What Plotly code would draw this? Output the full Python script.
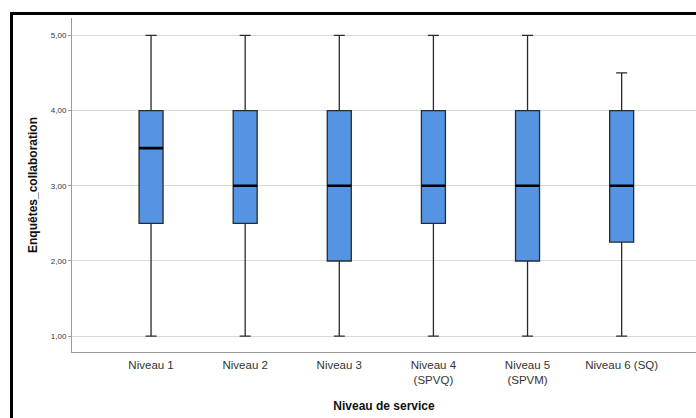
import plotly.graph_objects as go

categories = ["Niveau 1", "Niveau 2", "Niveau 3", "Niveau 4<br>(SPVQ)", "Niveau 5<br>(SPVM)", "Niveau 6 (SQ)"]
lower = [1.0, 1.0, 1.0, 1.0, 1.0, 1.0]
q1 = [2.5, 2.5, 2.0, 2.5, 2.0, 2.25]
median = [3.5, 3.0, 3.0, 3.0, 3.0, 3.0]
q3 = [4.0, 4.0, 4.0, 4.0, 4.0, 4.0]
upper = [5.0, 5.0, 5.0, 5.0, 5.0, 4.5]
ytick_vals = [1, 2, 3, 4, 5]
ytick_text = ["1,00", "2,00", "3,00", "4,00", "5,00"]

W, H = 696, 418
L, R, T, B = 72, 0, 18, 66

fig = go.Figure()
fig.add_trace(go.Box(
    x=categories, q1=q1, median=median, q3=q3,
    lowerfence=lower, upperfence=upper,
    fillcolor="#5593E3", line=dict(color="#2b2b2b", width=1.3),
    width=0.255, whiskerwidth=0.46, boxpoints=False, hoverinfo="skip",
))
# thick median line overlay
fig.add_trace(go.Box(
    x=categories, q1=median, median=median, q3=median,
    lowerfence=median, upperfence=median,
    fillcolor="rgba(0,0,0,0)", line=dict(color="#000000", width=2.6),
    width=0.255, whiskerwidth=1.0, boxpoints=False, hoverinfo="skip",
))

pw = W - L - R
ph = H - T - B
fig.add_shape(type="rect", xref="paper", yref="paper",
              x0=(11.5 - L) / pw, x1=(W + 30 - L) / pw,
              y0=-(H + 30 - T - ph) / ph, y1=1 + (T - 13.5) / ph,
              line=dict(color="black", width=3), layer="above")

fig.update_layout(
    width=W, height=H,
    margin=dict(l=L, r=R, t=T, b=B),
    paper_bgcolor="white", plot_bgcolor="white",
    showlegend=False, boxmode="overlay",
    font=dict(family="Liberation Sans, Arial, sans-serif", color="#222"),
    xaxis=dict(
        type="category", range=[-0.84, 5.79],
        showline=True, linecolor="#9a9a9a", linewidth=1,
        showgrid=False, ticks="outside", ticklen=2, tickcolor="rgba(0,0,0,0)",
        tickfont=dict(size=11.5, color="#333"),
        title=dict(text="<b>Niveau de service</b>", font=dict(size=12, color="#111"), standoff=16),
    ),
    yaxis=dict(
        range=[0.79, 5.23],
        tickvals=ytick_vals, ticktext=ytick_text,
        tickfont=dict(size=8, color="#333"),
        showline=True, linecolor="#9a9a9a", linewidth=1,
        showgrid=True, gridcolor="#d8d8d8", gridwidth=1,
        zeroline=False, ticks="outside", ticklen=3, tickcolor="#9a9a9a",
        title=dict(text="<b>Enquêtes_collaboration</b>", font=dict(size=12, color="#111"), standoff=10),
    ),
)

fig.write_html(
    "out.html",
    config={"displayModeBar": False},
    post_script="document.body.style.margin='0';document.body.style.overflow='hidden';"
                "document.documentElement.style.overflow='hidden';",
)
